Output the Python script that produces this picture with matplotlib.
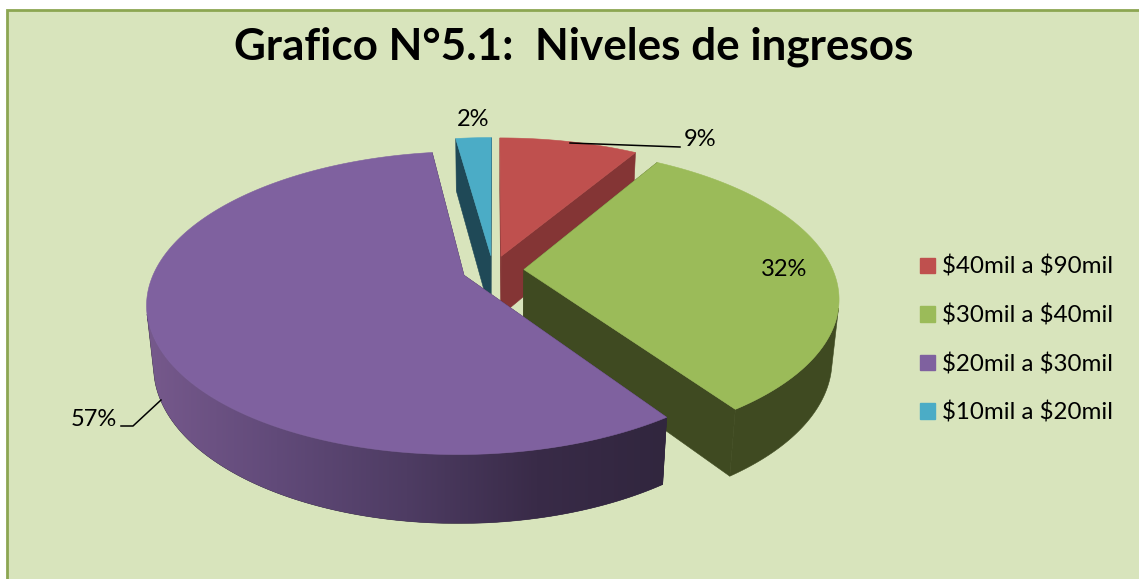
import numpy as np
import matplotlib
matplotlib.use("Agg")
import matplotlib.pyplot as plt
from matplotlib.colors import LinearSegmentedColormap
from matplotlib.patches import Patch, Polygon, Rectangle

title = "Grafico N°5.1:  Niveles de ingresos"
categories = ["$40mil a $90mil", "$30mil a $40mil", "$20mil a $30mil", "$10mil a $20mil"]
shares = [8.6, 31.8, 57.4, 2.2]  # labels round to 9/32/57/2

top_colors = ["#bf504e", "#9bbb59", "#7f619f", "#4bacc6"]
wall_colors = ["#843535", "#3f4a21", "#31263e", "#1f4957"]
draw_order = [3, 0, 1, 2]  # blue at the back, purple in front
purple_wall_rgb = ["#76598c", "#614a79", "#4e3c63", "#392b48", "#31263e"]

W, H = 1139, 579
CX, CY = 493, 270    # pie centre in pixels
SX, SY = 309, 144.5  # disc radius on screen
PERSP = 0.182        # back of the disc is smaller than the front
DROP = 61            # wall height
SHRINK = 0.02        # bottom of the wall is a bit smaller
EXPLODE = 0.1


def project(x, y, z=0.0):
    s = 1 / (1 + PERSP * y + SHRINK * z)
    return CX + SX * x * s, CY - SY * y * s + DROP * z * s


def rim(ox, oy, angle, z=0.0):
    return project(ox + np.sin(angle), oy + np.cos(angle), z)


def draw_poly(ax, pts, color, zorder):
    patch = Polygon(pts, closed=True, facecolor=color, edgecolor=color, lw=0.4, zorder=zorder)
    ax.add_patch(patch)
    return patch


def faces_viewer(ox, oy, a0, a1):
    # wall strip is visible when the rim runs right to left across its drop
    p0, p1, q0 = rim(ox, oy, a0), rim(ox, oy, a1), rim(ox, oy, a0, 1)
    return (p1[0] - p0[0]) * (q0[1] - p0[1]) - (p1[1] - p0[1]) * (q0[0] - p0[0]) < 0


fig = plt.figure(figsize=(W / 100, H / 100), dpi=100, facecolor="white")
ax = fig.add_axes([0, 0, 1, 1])
plt.rcParams["font.family"] = ["Lato", "DejaVu Sans"]

ax.add_patch(Rectangle((6.5, 9.5), W + 20, H + 20, facecolor="#d8e4bc", edgecolor="#8ca652", lw=2, zorder=0))

edges = np.radians(np.cumsum([0] + shares) * 3.6)
wall_cmap = LinearSegmentedColormap.from_list("purple_wall", purple_wall_rgb)
for rank, i in enumerate(draw_order):
    z_base = 1 + rank * 5
    a0, a1 = edges[i], edges[i + 1]
    mid = (a0 + a1) / 2
    ox, oy = EXPLODE * np.sin(mid), EXPLODE * np.cos(mid)
    angles = np.linspace(a0, a1, 2 * max(int(np.degrees(a1 - a0)), 3) + 1)
    apex_top = project(ox, oy)
    apex_bot = project(ox, oy, 1)

    # the two cut faces
    for a in (a0, a1):
        draw_poly(ax, [apex_top, rim(ox, oy, a), rim(ox, oy, a, 1), apex_bot], wall_colors[i], z_base)

    # outer wall, only the part turned to the viewer, one outline so no seams
    front = [a for a, b in zip(angles[:-1], angles[1:]) if faces_viewer(ox, oy, a, b)]
    if front:
        front = front + [front[-1] + (angles[1] - angles[0])]
        wall = [rim(ox, oy, a) for a in front] + [rim(ox, oy, a, 1) for a in front[::-1]]
        patch = draw_poly(ax, wall, wall_colors[i], z_base + 1)
        if i == 2:
            xs = [p[0] for p in wall]
            ys = [p[1] for p in wall]
            grad = ax.imshow(np.linspace(0, 1, 256).reshape(1, -1), cmap=wall_cmap, aspect="auto",
                             extent=(min(xs), max(xs), max(ys), min(ys)), zorder=z_base + 2)
            grad.set_clip_path(patch)

    # top face
    top = [apex_top] + [rim(ox, oy, a) for a in angles]
    draw_poly(ax, top, top_colors[i], z_base + 3)

ax.set_xlim(0, W)
ax.set_ylim(H, 0)
ax.axis("off")

label_size = 17
ax.text(573.5, 47, title, ha="center", va="center", fontsize=31.7, fontweight="bold", color="black", zorder=50)
labels = [f"{v:.0f}%" for v in shares]
ax.text(700, 140, labels[0], ha="center", va="center", fontsize=label_size, zorder=50)
ax.text(784, 269, labels[1], ha="center", va="center", fontsize=label_size, zorder=50)
ax.text(94, 419, labels[2], ha="center", va="center", fontsize=label_size, zorder=50)
ax.text(473, 120, labels[3], ha="center", va="center", fontsize=label_size, zorder=50)
ax.plot([570, 680], [143, 147], color="black", lw=1.1, zorder=50)
ax.plot([161, 133, 121], [400, 426, 426], color="black", lw=1.1, zorder=50)

handles = [Patch(facecolor=c, edgecolor=c) for c in top_colors]
leg = ax.legend(handles, categories, loc="upper left", bbox_to_anchor=(920 / W, 1 - 256 / H), frameon=False,
                fontsize=17.4, borderpad=0, borderaxespad=0, handlelength=0.62, handleheight=0.62,
                handletextpad=0.3, labelspacing=1.1, labelcolor="black")
for t in leg.get_texts():
    t.set_parse_math(False)

fig.savefig("out.png", dpi=100, facecolor="white")
